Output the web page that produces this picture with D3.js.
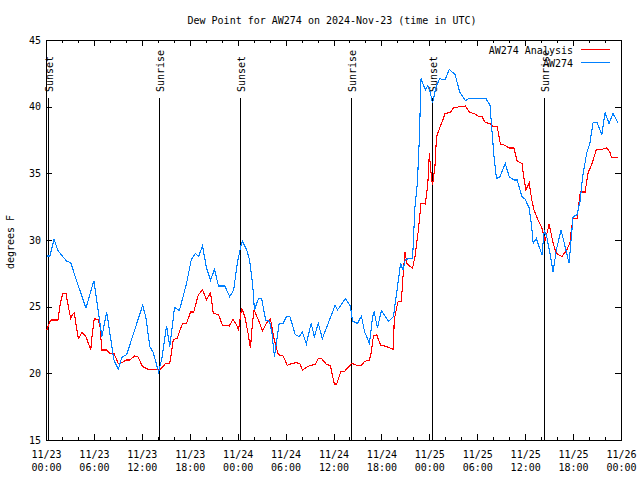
<!DOCTYPE html>
<html><head><meta charset="utf-8">
<script src="https://cdn.jsdelivr.net/npm/d3@7"></script>
<style>
body{margin:0;background:#fff}
svg text{font-family:"DejaVu Sans Mono","Liberation Mono",monospace;font-size:10px;fill:#000}
</style>
</head><body>
<svg id="chart" width="640" height="480"></svg>
<script>
// ---------- data ----------
const chartTitle = "Dew Point for AW274 on 2024-Nov-23 (time in UTC)";
const yLabel = "degrees F";
const seriesNames = ["AW274 Analysis", "AW274"];
const seriesColors = ["#ff0000", "#0080ff"];
const startUTC = Date.UTC(2024, 10, 23, 0, 0);
const spanHours = 72;
const yTickValues = [15, 20, 25, 30, 35, 40, 45];

// hours after 11/23 00:00 UTC
const analysisHours = [0.1,0.5,0.7,1.5,1.8,2.1,2.5,2.8,3.1,3.3,3.55,3.8,4.05,4.5,5.0,5.3,5.6,5.8,6.05,6.55,6.8,6.97,7.6,8.0,8.5,9.05,9.5,10.0,10.5,11.1,11.5,12.1,12.8,13.6,14.3,15.0,15.5,15.95,16.4,16.7,17.1,17.6,18.1,18.5,19.07,19.6,20.1,20.6,20.95,21.6,22.1,22.95,23.4,23.9,24.1,24.5,24.9,25.3,25.6,25.85,26.05,26.6,27.1,27.6,28.1,28.5,28.8,29.1,29.7,30.2,30.8,31.4,31.8,32.1,32.6,33.1,33.7,34.1,34.5,35.15,35.6,35.9,36.1,36.4,36.9,37.4,37.9,38.3,38.9,39.5,39.9,40.5,40.7,41.0,41.4,41.9,42.4,43.1,43.5,43.6,43.9,44.1,44.5,44.7,44.95,45.2,45.6,45.9,46.2,46.6,46.96,47.5,47.8,48.0,48.2,48.4,48.7,48.9,49.3,49.7,49.95,50.6,51.0,51.8,52.5,53.0,53.7,54.1,54.6,55.0,55.6,56.0,56.5,56.9,57.5,58.0,58.6,59.0,59.6,59.9,60.1,60.5,60.8,61.1,61.6,62.1,62.5,63.0,63.5,63.9,64.6,65.2,65.6,65.8,66.0,66.5,66.9,67.5,67.9,68.3,68.9,69.6,70.2,70.6,70.8,71.6];
const analysisValues = [23.25,23.9,24.0,24.0,25.25,26.0,26.0,25.0,24.1,24.4,24.55,23.5,22.6,23.05,22.75,22.25,21.75,23.0,24.1,24.0,23.4,21.75,21.75,21.5,21.5,20.75,20.8,21.0,21.0,21.3,21.25,20.5,20.3,20.3,20.3,20.75,20.75,22.55,22.6,23.1,23.75,23.75,24.6,24.6,25.9,26.25,25.5,26.05,24.5,24.4,23.6,23.55,24.05,23.6,23.2,24.9,24.25,23.0,21.9,23.75,24.75,24.0,23.2,23.75,24.1,22.75,22.0,21.4,21.3,20.6,20.75,20.8,20.7,20.25,20.45,20.6,20.65,21.1,21.1,20.65,20.6,19.75,19.2,19.2,20.1,20.15,20.5,20.75,20.6,20.6,20.9,21.0,21.5,22.8,22.9,22.1,22.05,21.9,21.8,24.0,24.9,25.4,25.4,27.25,29.1,28.25,28.0,27.9,28.75,30.6,32.75,32.7,34.1,36.5,35.1,34.1,35.5,37.75,38.4,39.0,39.5,39.55,39.9,40.0,40.05,39.6,39.45,39.3,39.25,38.8,38.75,38.5,38.5,37.2,37.1,36.9,36.9,35.9,35.75,34.4,33.75,34.3,33.1,32.25,31.5,30.9,29.9,31.2,29.75,29.0,28.75,29.25,29.75,30.9,31.6,31.6,33.6,33.6,35.1,35.6,36.75,36.8,36.9,36.6,36.2,36.2];

const stationHours = [0.1,0.5,1.0,1.5,2.6,3.1,3.8,5.0,6.0,7.0,7.6,8.5,9.05,9.5,10.1,12.1,12.5,13.0,13.4,14.1,14.5,15.1,15.5,16.1,16.7,17.6,18.2,18.7,19.1,19.6,20.1,20.6,21.1,21.6,22.4,23.0,23.5,23.95,24.38,24.6,25.13,25.5,25.9,26.1,26.6,27.0,27.5,28.0,28.3,28.6,29.2,29.7,30.1,30.55,31.2,31.7,32.1,32.6,33.2,33.6,34.1,34.6,36.2,36.5,37.5,38.1,38.4,39.0,39.5,39.9,40.5,40.9,41.1,41.5,42.0,42.9,43.5,43.9,44.4,44.7,45.0,45.6,45.9,46.2,46.5,46.75,46.96,47.5,47.8,48.1,48.4,48.84,49.3,49.97,50.5,51.22,51.8,52.5,52.9,55.1,55.6,55.8,56.1,56.4,56.85,57.5,58.0,58.6,59.0,59.6,60.0,60.5,60.8,61.0,61.4,61.6,62.1,62.4,62.7,63.1,63.5,63.9,64.5,65.0,65.5,66.0,66.5,66.9,67.2,67.7,68.1,68.5,69.0,69.6,70.0,70.5,71.0,71.6];
const stationValues = [28.8,28.8,30.05,29.2,28.4,28.3,27.0,24.9,26.95,22.75,24.6,21.0,20.3,21.2,21.4,25.1,24.25,22.0,21.6,20.1,21.1,23.55,22.0,24.95,24.7,26.75,28.55,29.0,28.75,29.55,27.9,27.0,27.8,26.55,26.55,25.75,26.25,28.25,29.5,29.9,29.25,28.5,26.5,24.75,25.6,25.6,24.0,23.9,23.0,21.25,23.75,23.75,24.25,24.25,22.9,22.75,23.1,22.2,23.75,22.75,23.75,22.6,25.1,24.75,25.6,25.05,23.9,23.75,24.3,23.1,22.25,24.25,24.6,23.4,24.7,23.9,24.25,26.0,28.25,27.75,28.55,28.6,28.6,32.5,34.25,37.6,42.1,41.25,41.6,41.1,40.25,41.5,42.1,42.0,42.8,42.4,41.1,40.45,40.6,40.6,40.1,38.5,36.25,34.6,34.75,35.75,34.75,34.5,34.5,33.25,33.05,32.4,31.1,29.75,30.1,29.75,28.9,30.75,30.25,29.0,27.6,29.25,30.75,29.5,28.25,31.75,31.9,33.0,34.75,36.5,37.25,38.8,38.8,37.9,39.55,38.75,39.5,38.8];

const sunHours = [0.25, 14.2, 24.33, 38.2, 48.33, 62.3];
const sunLabels = ["Sunset", "Sunrise", "Sunset", "Sunrise", "Sunset", "Sunrise"];

// ---------- drawing ----------
const svg = d3.select("#chart");
const L = 46, R = 621, T = 40, B = 440;
const toDate = h => new Date(startUTC + h * 3600e3);

const x = d3.scaleUtc().domain([toDate(0), toDate(spanHours)]).range([L, R]);
const y = d3.scaleLinear().domain([15, 45]).range([B, T]);

svg.append("rect").attr("width", 640).attr("height", 480).attr("fill", "#fff");

const majorTicks = d3.utcHour.every(6).range(toDate(0), toDate(spanHours + 0.01));
const minorTicks = d3.utcHour.every(2).range(toDate(0), toDate(spanHours + 0.01));

function styleAxis(g) {
  g.select(".domain").remove();
  g.selectAll("line").attr("stroke", "#000").attr("shape-rendering", "crispEdges");
  g.selectAll("text").style("font-family", null).style("font-size", null).attr("font-family", null).attr("font-size", null);
}

// minor x ticks bottom / top
svg.append("g").attr("transform", `translate(0,${B})`)
  .call(d3.axisBottom(x).tickValues(minorTicks).tickSizeInner(-3).tickSizeOuter(0).tickFormat(""))
  .call(styleAxis);
svg.append("g").attr("transform", `translate(0,${T})`)
  .call(d3.axisTop(x).tickValues(minorTicks).tickSizeInner(-3).tickSizeOuter(0).tickFormat(""))
  .call(styleAxis);
// major x ticks
const fmtDate = d3.utcFormat("%m/%d"), fmtTime = d3.utcFormat("%H:%M");
const xb = svg.append("g").attr("transform", `translate(0,${B})`)
  .call(d3.axisBottom(x).tickValues(majorTicks).tickSizeInner(-6).tickSizeOuter(0).tickFormat(""))
  .call(styleAxis);
xb.selectAll(".tick text").remove();
xb.selectAll(".tick").each(function(d) {
  const t = d3.select(this).append("text").attr("text-anchor", "middle");
  t.append("tspan").attr("x", 0).attr("y", 17.5).text(fmtDate(d));
  t.append("tspan").attr("x", 0).attr("y", 30.5).text(fmtTime(d));
});
svg.append("g").attr("transform", `translate(0,${T})`)
  .call(d3.axisTop(x).tickValues(majorTicks).tickSizeInner(-6).tickSizeOuter(0).tickFormat(""))
  .call(styleAxis);

// y axes
svg.append("g").attr("transform", `translate(${L},0)`)
  .call(d3.axisLeft(y).tickValues(yTickValues).tickSizeInner(-6).tickSizeOuter(0).tickPadding(5).tickFormat(d3.format("d")))
  .call(styleAxis);
svg.append("g").attr("transform", `translate(${R},0)`)
  .call(d3.axisRight(y).tickValues(yTickValues).tickSizeInner(-6).tickSizeOuter(0).tickFormat(""))
  .call(styleAxis);

// frame
svg.append("rect").attr("x", L + 0.5).attr("y", T + 0.5).attr("width", R - L).attr("height", B - T)
  .attr("fill", "none").attr("stroke", "#000").attr("shape-rendering", "crispEdges");

// sunrise/sunset markers
const sunTop = 98;
sunHours.forEach((h, i) => {
  const xp = Math.round(x(toDate(h))) + 0.5;
  svg.append("line").attr("x1", xp).attr("x2", xp).attr("y1", sunTop).attr("y2", B)
    .attr("stroke", "#000").attr("shape-rendering", "crispEdges");
  svg.append("text").attr("transform", `translate(${xp + 4},92) rotate(-90)`)
    .attr("text-anchor", "start").text(sunLabels[i]);
});

// series
const line = d3.line().x(d => x(toDate(d[0]))).y(d => y(d[1]));
const seriesData = [
  d3.zip(analysisHours, analysisValues),
  d3.zip(stationHours, stationValues)
];
seriesData.forEach((data, i) => {
  svg.append("path").datum(data).attr("d", line)
    .attr("fill", "none").attr("stroke", seriesColors[i]).attr("stroke-width", 1.1)
    .attr("shape-rendering", "crispEdges");
});

// legend
seriesNames.forEach((name, i) => {
  const ly = 49.5 + i * 13;
  svg.append("text").attr("x", 573).attr("y", ly + 4).attr("text-anchor", "end").text(name);
  svg.append("line").attr("x1", 581).attr("x2", 610).attr("y1", ly).attr("y2", ly)
    .attr("stroke", seriesColors[i]).attr("stroke-width", 1).attr("shape-rendering", "crispEdges");
});

// title & y label
svg.append("text").attr("x", 332).attr("y", 24).attr("text-anchor", "middle").text(chartTitle);
svg.append("text").attr("transform", "translate(14,242) rotate(-90)").attr("text-anchor", "middle").text(yLabel);
</script>
</body></html>
